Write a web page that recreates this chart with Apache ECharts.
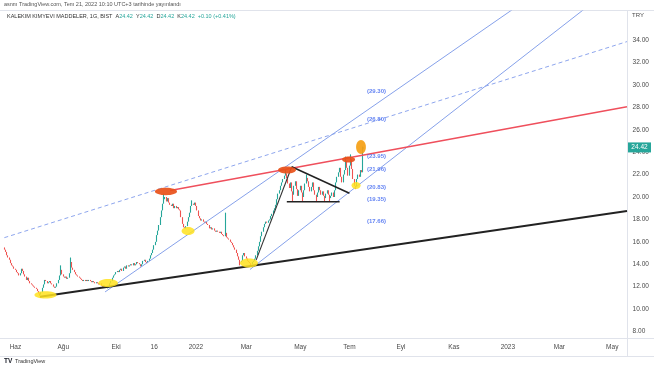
<!DOCTYPE html>
<html><head><meta charset="utf-8">
<script src="https://cdn.jsdelivr.net/npm/echarts@6/dist/echarts.min.js"></script>
<style>html,body{margin:0;padding:0;background:#fff}#c{width:654px;height:366px}</style>
</head><body><div id="c"></div>
<script>
// ---------------- DATA ----------------
const startDate = '2021-05-18';
const holidays = ['2021-05-19','2021-07-15','2021-07-20','2021-07-21','2021-07-22','2021-07-23',
  '2021-08-30','2021-10-29','2022-05-02','2022-05-03','2022-05-04','2022-05-19','2022-07-11','2022-07-12'];
const visibleBars = 508;

const firstOpen = 15.5;
const closes = [
 15.3,15.1,14.8,14.6,14.4,14.1,13.9,13.8,13.6,13.5,
 13.3,13.2,13.0,13.2,13.6,13.4,13.1,12.9,12.6,12.8,
 12.5,12.3,12.2,12.1,12.0,11.9,11.8,11.6,11.4,11.3,
 11.5,11.9,12.2,12.6,12.5,12.3,12.4,12.5,12.3,12.2,
 12.0,11.9,12.0,12.3,12.6,13.0,13.5,13.1,12.9,12.8,
 12.9,12.7,12.8,13.2,14.2,13.7,13.5,13.3,13.1,13.0,
 12.9,12.8,12.7,12.6,12.5,12.6,12.5,12.6,12.5,12.6,
 12.5,12.4,12.5,12.4,12.3,12.4,12.3,12.2,12.3,12.1,
 12.0,12.1,12.0,11.9,11.9,12.0,12.3,12.5,12.8,13.0,
 13.1,13.3,13.4,13.3,13.5,13.6,13.4,13.7,13.8,13.6,
 13.9,13.8,13.9,14.0,13.9,14.1,13.9,14.0,14.2,14.1,
 14.0,13.8,14.0,14.3,14.4,14.2,14.1,14.3,14.5,14.8,
 15.0,15.3,15.7,16.0,16.6,17.0,17.5,18.2,18.8,19.4,
 19.8,20.0,19.6,19.9,19.5,19.3,19.2,19.4,19.0,19.2,
 19.0,19.1,18.9,18.8,18.2,17.6,17.3,17.2,17.4,17.8,
 18.2,18.6,19.2,19.4,19.3,19.5,19.2,18.8,18.3,18.1,
 17.9,18.0,17.8,17.7,17.8,17.6,17.5,17.2,17.3,17.1,
 17.2,17.0,16.9,17.0,16.9,16.8,16.9,16.7,16.6,16.5,
 16.8,16.4,16.3,16.2,16.0,15.9,15.7,15.5,15.3,15.0,
 14.7,14.4,14.2,14.3,14.8,15.0,14.7,14.5,14.3,14.2,
 14.1,14.0,14.2,14.3,14.5,14.8,15.2,15.6,16.0,16.5,
 16.9,17.3,17.6,17.8,17.7,17.9,18.0,18.3,18.5,18.8,
 19.0,19.3,19.8,20.3,20.6,21.0,21.3,21.6,21.9,22.1,
 21.7,21.2,20.8,21.3,20.5,20.2,21.0,21.4,20.7,20.1,
 20.6,21.0,20.4,20.0,20.6,21.2,21.7,21.4,20.9,20.5,
 20.9,21.3,20.6,20.2,20.0,20.4,20.9,20.6,20.2,20.5,
 20.1,19.9,20.3,20.6,20.2,19.9,20.1,20.4,20.0,20.6,
 21.3,21.8,22.2,22.6,21.8,21.3,22.0,22.4,23.2,22.6,
 21.9,22.8,23.4,22.5,21.6,21.0,20.9,21.6,22.0,21.8,
 22.4,22.2,24.32,24.42
];
const spikeHighs = {46:13.9,54:14.6,130:20.3,153:19.7,180:18.6,229:22.4,246:22.0,278:23.6,282:23.8,292:24.5};
const dipLows = {29:11.2,84:11.85,192:13.9,201:13.9,235:19.6,243:19.6,254:19.6,261:19.6,265:19.6,286:20.7};

const tickDates  = ['2021-06-01','2021-08-02','2021-10-01','2021-11-16','2022-01-03','2022-03-01','2022-05-05','2022-07-01','2022-09-01','2022-11-01','2023-01-02','2023-03-01','2023-05-01'];
const tickLabels = ['Haz','Ağu','Eki','16','2022','Mar','May','Tem','Eyl','Kas','2023','Mar','May'];
const yTicks = [8,10,12,14,16,18,20,22,24,26,28,30,32,34];

// drawings: [barIndex, price]
const supportLine    = [[29,11.10],[507,18.75]];
const resistanceLine = [[135,20.58],[507,28.04]];
const dashedLine     = [[0,16.37],[507,33.86]];
const channelUpper   = [[82,11.53],[507,43.8]];
const channelLower   = [[200,13.53],[507,39.73]];
const rallyLeg       = [[205,14.37],[234,22.70]];
const triangleTop    = [[234,22.70],[281,20.33]];
const triangleBase   = [[230,19.58],[273,19.58]];
// highlights: [barIndex, price, halfWidthBars, halfHeightPrice]
const yellowMarks = [[33.5,11.26,9,0.32],[84.5,12.33,8,0.36],[149.6,16.97,5.3,0.36],[199.2,14.11,7.3,0.4],[286.4,21.03,3.7,0.31]];
const orangeMarks = [[131.6,20.49,9,0.33],[230.2,22.41,7.3,0.31],[280.3,23.35,5.3,0.27]];
const amberMarks  = [[290.4,24.46,4,0.62]];
const fibTexts  = ['(29.30)','(26.80)','(23.95)','(21.96)','(20.83)','(19.35)','(17.66)'];
const fibAnchor = [29.4,26.95,23.6,22.45,20.9,19.8,17.8];
const fibBar = 303;

// ---------------- BUILD ----------------
function buildDays(start, n, skip){
  const out=[]; const d=new Date(start+'T00:00:00Z');
  while(out.length<n){
    const wd=d.getUTCDay(); const s=d.toISOString().slice(0,10);
    if(wd!==0&&wd!==6&&skip.indexOf(s)<0) out.push(s);
    d.setUTCDate(d.getUTCDate()+1);
  }
  return out;
}
const days = buildDays(startDate, visibleBars, holidays);
const tickMap = {}; tickDates.forEach((d,i)=>tickMap[d]=tickLabels[i]);

const candles = closes.map((c,i)=>{
  const o = i ? closes[i-1] : firstOpen;
  let lo = Math.min(o,c), hi = Math.max(o,c);
  if (spikeHighs[i]!==undefined) hi = Math.max(hi, spikeHighs[i]);
  if (dipLows[i]!==undefined) lo = Math.min(lo, dipLows[i]);
  return [o,c,lo,hi];
});
const last = closes[closes.length-1], prev = closes[closes.length-2];
const chg = last-prev, pct = chg/prev*100;

function seg(pts,color,width,type){
  return {type:'line',data:pts,symbol:'none',silent:true,clip:true,z:3,
    lineStyle:{color:color,width:width,type:type||'solid'}};
}
function ellipseSeries(data,fill,z){
  return {type:'custom',z:z||4,silent:true,data:data,
    renderItem:function(params,api){
      const xi=api.value(0), fl=Math.floor(xi);
      const bw=api.size([1,0])[0];
      const base=api.coord([fl,api.value(1)]);
      const cx=base[0]+(xi-fl)*bw;
      const top=api.coord([fl,api.value(1)+api.value(3)]);
      return {type:'ellipse',shape:{cx:cx,cy:base[1],rx:api.value(2)*bw,ry:Math.abs(base[1]-top[1])},style:{fill:fill}};
    }};
}
const FONT='"Liberation Sans", Arial, sans-serif';

const chart = echarts.init(document.getElementById('c'),null,{renderer:'canvas'});
const baseGraphic = [
    {type:'line',shape:{x1:0,y1:10.5,x2:654,y2:10.5},style:{stroke:'#e0e3eb',lineWidth:1},silent:true},
    {type:'line',shape:{x1:627.5,y1:10.5,x2:627.5,y2:356.5},style:{stroke:'#e0e3eb',lineWidth:1},silent:true},
    {type:'line',shape:{x1:0,y1:338.5,x2:654,y2:338.5},style:{stroke:'#e0e3eb',lineWidth:1},silent:true},
    {type:'line',shape:{x1:0,y1:356.5,x2:654,y2:356.5},style:{stroke:'#e0e3eb',lineWidth:1},silent:true},
    {type:'text',left:4,top:1.5,silent:true,style:{text:'asnm TradingView.com, Tem 21, 2022 10:10 UTC+3 tarihinde yayınlandı',fill:'#555',font:'5.5px '+FONT}},
    {type:'text',left:7,top:13,silent:true,style:{
      text:'{a|KALEKIM KIMYEVI MADDELER, 1G, BIST  A}{b|'+last.toFixed(2)+'}{a|  Y}{b|'+last.toFixed(2)+'}{a|  D}{b|'+last.toFixed(2)+'}{a|  K}{b|'+last.toFixed(2)+'}{b|  +'+chg.toFixed(2)+' (+'+pct.toFixed(2)+'%)}',
      rich:{a:{fill:'#333',font:'5.5px '+FONT},b:{fill:'#26a69a',font:'5.5px '+FONT}}}},
    {type:'text',left:632,top:12,silent:true,style:{text:'TRY',fill:'#4a4a4a',font:'6px '+FONT}},
    {type:'text',left:4,top:358,silent:true,style:{text:'TV',fill:'#131722',font:'bold 6.5px '+FONT}},
    {type:'text',left:15,top:358.5,silent:true,style:{text:'TradingView',fill:'#333',font:'5.5px '+FONT}}
];
chart.setOption({
  animation:false,
  backgroundColor:'#ffffff',
  grid:{left:3.74,right:26.4,top:11,bottom:28},
  xAxis:{type:'category',data:days,boundaryGap:true,
    axisLine:{show:false},axisTick:{show:false},splitLine:{show:false},
    axisLabel:{interval:function(i,v){return tickMap[v]!==undefined;},formatter:function(v){return tickMap[v]||'';},
      color:'#4a4a4a',fontSize:6.5,fontFamily:FONT,margin:6}},
  yAxis:{type:'value',position:'right',min:7.42,max:36.59,
    axisLine:{show:false},axisTick:{show:false},splitLine:{show:false},
    axisLabel:{customValues:yTicks,formatter:function(v){return v.toFixed(2);},color:'#4a4a4a',fontSize:6.5,fontFamily:FONT,margin:5}},
  series:[
    {type:'candlestick',data:candles,barWidth:1.3,z:2,
      itemStyle:{color:'#26a69a',color0:'#ef5350',borderColor:'#26a69a',borderColor0:'#ef5350',borderWidth:1.1}},
    seg(dashedLine,'#8ea6ee',1,[4,3]),
    seg(channelUpper,'#86a1ea',1),
    seg(channelLower,'#86a1ea',1),
    seg(resistanceLine,'#ef4f5c',1.5),
    seg(supportLine,'#222222',1.8),
    seg(rallyLeg,'#333333',1.1),
    seg(triangleTop,'#222222',1.5),
    seg(triangleBase,'#222222',1.5),
    ellipseSeries(yellowMarks,'rgba(255,226,30,0.85)',5),
    ellipseSeries(orangeMarks,'rgba(232,80,25,0.92)',5),
    ellipseSeries(amberMarks,'rgba(245,160,20,0.92)',5),
    {type:'scatter',symbolSize:0,silent:true,z:6,
      data:fibTexts.map((t,i)=>[fibBar,fibAnchor[i],t]),
      label:{show:true,position:'inside',formatter:function(p){return p.data[2];},
        color:'#3f66f0',fontSize:6,fontWeight:'bold',fontFamily:FONT}}
  ],
  graphic: baseGraphic
});
// last-price tag on the price axis, placed through the y scale
const py = chart.convertToPixel({yAxisIndex:0}, last);
chart.setOption({graphic: baseGraphic.concat([
  {type:'rect',shape:{x:628,y:py-5,width:23,height:10},style:{fill:'#26a69a'},silent:true,z:10},
  {type:'text',x:639.5,y:py,silent:true,z:11,style:{text:last.toFixed(2),fill:'#fff',font:'6.5px '+FONT,align:'center',verticalAlign:'middle'}}
])});
</script></body></html>
